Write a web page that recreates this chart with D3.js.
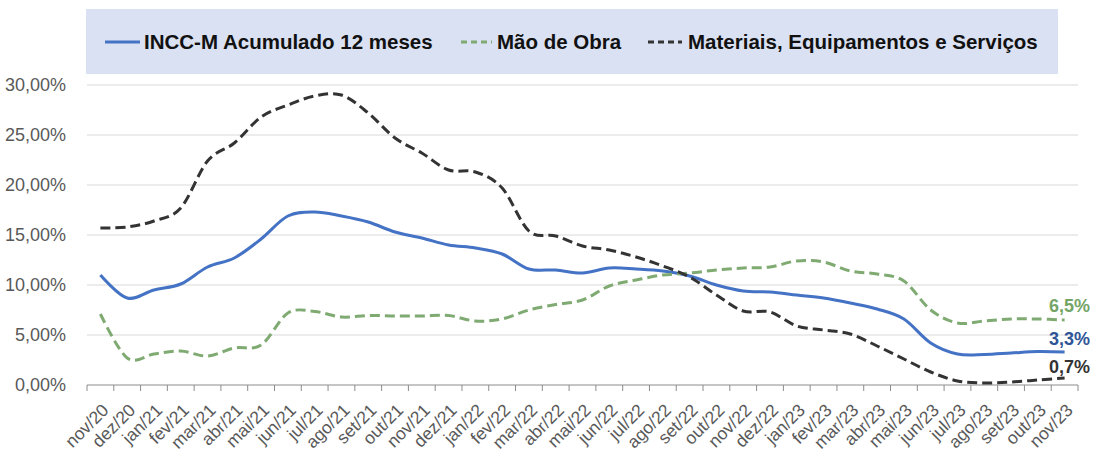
<!DOCTYPE html>
<html>
<head>
<meta charset="utf-8">
<script src="https://cdn.jsdelivr.net/npm/d3@7/dist/d3.min.js"></script>
<style>
  html, body { margin: 0; padding: 0; background: #ffffff; }
  svg { display: block; }
</style>
</head>
<body>
<svg id="chart" width="1095" height="472"></svg>
<script>
const categories = ["nov/20","dez/20","jan/21","fev/21","mar/21","abr/21","mai/21","jun/21","jul/21","ago/21","set/21","out/21","nov/21","dez/21","jan/22","fev/22","mar/22","abr/22","mai/22","jun/22","jul/22","ago/22","set/22","out/22","nov/22","dez/22","jan/23","fev/23","mar/23","abr/23","mai/23","jun/23","jul/23","ago/23","set/23","out/23","nov/23"];

const inccValues = [11.0, 8.7, 9.5, 10.1, 11.8, 12.7, 14.6, 16.9, 17.3, 16.9, 16.3, 15.3, 14.7, 14.0, 13.7, 13.1, 11.6, 11.5, 11.2, 11.7, 11.6, 11.4, 10.9, 10.0, 9.4, 9.3, 9.0, 8.7, 8.2, 7.6, 6.6, 4.2, 3.1, 3.05, 3.2, 3.35, 3.3];

const maoValues = [7.1, 2.7, 3.1, 3.4, 2.9, 3.7, 4.0, 7.2, 7.35, 6.8, 6.95, 6.9, 6.9, 6.95, 6.4, 6.6, 7.5, 8.05, 8.5, 9.9, 10.5, 11.0, 11.2, 11.5, 11.7, 11.8, 12.4, 12.3, 11.4, 11.1, 10.4, 7.5, 6.2, 6.4, 6.6, 6.6, 6.5];

const materiaisValues = [15.7, 15.8, 16.4, 17.7, 22.4, 24.2, 26.8, 28.0, 28.9, 29.0, 27.2, 24.7, 23.2, 21.5, 21.3, 19.7, 15.4, 14.9, 13.9, 13.5, 12.8, 11.9, 10.8, 9.0, 7.4, 7.3, 5.9, 5.5, 5.1, 3.9, 2.6, 1.3, 0.4, 0.2, 0.3, 0.5, 0.7];

const yTicks = [0, 5, 10, 15, 20, 25, 30];

const seriesNames = ["INCC-M Acumulado 12 meses", "Mão de Obra", "Materiais, Equipamentos e Serviços"];

const series = [
  { name: seriesNames[0], values: inccValues, color: "#4472c4", labelColor: "#2f5597", dash: null },
  { name: seriesNames[1], values: maoValues, color: "#7faa72", labelColor: "#74a567", dash: "10,5" },
  { name: seriesNames[2], values: materiaisValues, color: "#333333", labelColor: "#333333", dash: "10,5" }
];

const svg = d3.select("#chart");
const plotLeft = 87, plotRight = 1078, plotTop = 85, plotBottom = 385;

const x = d3.scaleBand().domain(categories).range([plotLeft, plotRight]).paddingInner(0).paddingOuter(0);
const y = d3.scaleLinear().domain([0, 30]).range([plotBottom, plotTop]);
const cx = c => x(c) + x.bandwidth() / 2;

const fmtAxis = v => d3.format(".2f")(v).replace(".", ",") + "%";
const fmtLabel = v => d3.format(".1f")(v).replace(".", ",") + "%";

// legend box
svg.append("rect")
  .attr("x", 86).attr("y", 9).attr("width", 972).attr("height", 65)
  .attr("fill", "#dae1f2");

// gridlines
svg.append("g")
  .selectAll("line")
  .data(yTicks.filter(t => t > 0))
  .join("line")
  .attr("x1", plotLeft).attr("x2", plotRight)
  .attr("y1", d => y(d)).attr("y2", d => y(d))
  .attr("stroke", "#d9d9d9").attr("stroke-width", 1);

// y axis labels
const yAxis = d3.axisLeft(y).tickValues(yTicks).tickFormat(fmtAxis).tickSize(0).tickPadding(0);
const gy = svg.append("g").attr("transform", "translate(66,0)").call(yAxis);
gy.select(".domain").remove();
gy.selectAll("text")
  .attr("font-family", "'Liberation Sans', Arial, sans-serif")
  .attr("font-size", "18px")
  .attr("fill", "#595959");

// x axis
const gx = svg.append("g").attr("transform", `translate(0,${plotBottom})`);
gx.append("line").attr("x1", plotLeft).attr("x2", plotRight).attr("y1", 0).attr("y2", 0)
  .attr("stroke", "#8c8c8c").attr("stroke-width", 1);
const tickPos = categories.map(c => x(c)).concat([plotRight]);
gx.selectAll("line.tick").data(tickPos).join("line").attr("class", "tick")
  .attr("x1", d => d).attr("x2", d => d).attr("y1", 0).attr("y2", 6)
  .attr("stroke", "#8c8c8c").attr("stroke-width", 1);
gx.selectAll("text").data(categories).join("text")
  .attr("transform", d => `translate(${cx(d) + 5},${22}) rotate(-45)`)
  .attr("text-anchor", "end")
  .attr("dy", "0.35em")
  .attr("font-family", "'Liberation Sans', Arial, sans-serif")
  .attr("font-size", "17.5px")
  .attr("fill", "#595959")
  .text(d => d);

// lines
const line = d3.line()
  .x((d, i) => cx(categories[i]))
  .y(d => y(d))
  .curve(d3.curveCardinal.tension(0));

svg.append("g").selectAll("path")
  .data(series)
  .join("path")
  .attr("d", d => line(d.values))
  .attr("fill", "none")
  .attr("stroke", d => d.color)
  .attr("stroke-width", 3)
  .attr("stroke-dasharray", d => d.dash)
  .attr("stroke-linecap", "butt");

// end labels
const labelOffsets = [-7, -8, -5];
svg.append("g").selectAll("text")
  .data(series)
  .join("text")
  .attr("x", 1090)
  .attr("y", (d, i) => y(d.values[d.values.length - 1]) + labelOffsets[i])
  .attr("text-anchor", "end")
  .attr("font-family", "'Liberation Sans', Arial, sans-serif")
  .attr("font-weight", "bold")
  .attr("font-size", "18px")
  .attr("fill", d => d.labelColor)
  .text(d => fmtLabel(d.values[d.values.length - 1]));

// legend
const legendItems = [
  { s: series[0], x1: 105, x2: 140, tx: 144 },
  { s: series[1], x1: 461, x2: 492, tx: 497 },
  { s: series[2], x1: 648, x2: 682, tx: 688 }
];
const lg = svg.append("g");
legendItems.forEach(it => {
  lg.append("line")
    .attr("x1", it.x1).attr("x2", it.x2).attr("y1", 42).attr("y2", 42)
    .attr("stroke", it.s.color).attr("stroke-width", 3)
    .attr("stroke-dasharray", it.s.dash ? "6,4" : null);
  lg.append("text")
    .attr("x", it.tx).attr("y", 49)
    .attr("font-family", "'Liberation Sans', Arial, sans-serif")
    .attr("font-weight", "bold")
    .attr("font-size", "20.5px")
    .attr("fill", "#111111")
    .text(it.s.name);
});
</script>
</body>
</html>
